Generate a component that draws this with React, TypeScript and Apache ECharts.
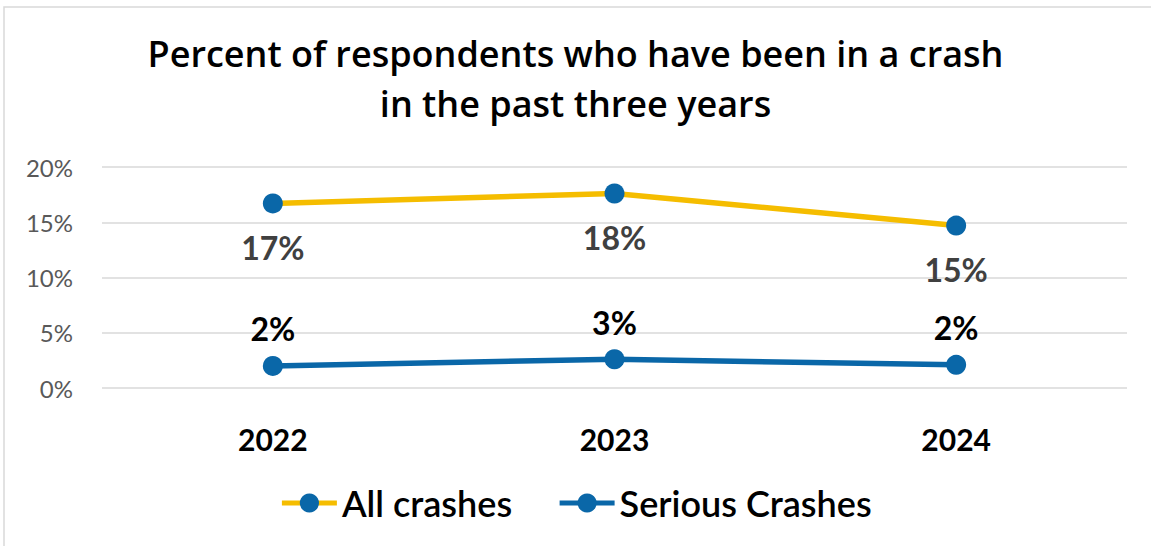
import React, { useEffect, useRef } from "react";
import * as echarts from "echarts";

const years = ["2022", "2023", "2024"];
const allCrashes = [16.7, 17.6, 14.7];
const seriousCrashes = [2.0, 2.6, 2.1];
const titleLines = ["Percent of respondents who have been in a crash", "in the past three years"];
const seriesNames = ["All crashes", "Serious Crashes"];

const FONT = "Lato, 'Open Sans', sans-serif";
const TITLE_FONT = "'Open Sans', Lato, sans-serif";
const YELLOW = "#F5BD00";
const BLUE = "#0A67A8";

export default function App() {
  const ref = useRef<HTMLDivElement>(null);
  useEffect(() => {
    document.body.style.margin = "0";
    const chart = echarts.init(ref.current!, null, { renderer: "svg" });
    chart.setOption({
      animation: false,
      backgroundColor: "#ffffff",
      textStyle: { fontFamily: FONT },
      graphic: [
        {
          type: "rect",
          shape: { x: 4, y: 7, width: 1200, height: 600 },
          style: { fill: "none", stroke: "#D9D9D9", lineWidth: 1.5 },
          silent: true,
        },
      ],
      title: {
        text: titleLines.join("\n"),
        left: "center",
        top: 23,
        textStyle: {
          fontFamily: TITLE_FONT,
          fontSize: 36,
          fontWeight: 600,
          color: "#000000",
          lineHeight: 50,
        },
      },
      legend: {
        bottom: 20,
        left: "center",
        itemWidth: 55,
        itemHeight: 24,
        itemGap: 45,
        lineStyle: { width: 5 },
        textStyle: { fontFamily: FONT, fontSize: 36, fontWeight: 600, color: "#000000" },
        data: seriesNames,
      },
      grid: { left: 102, right: 24, top: 167, bottom: 158 },
      xAxis: {
        type: "category",
        data: years,
        axisLine: { show: false },
        axisTick: { show: false },
        axisLabel: {
          margin: 36,
          fontFamily: FONT,
          fontSize: 30,
          fontWeight: "bold",
          color: "#000000",
        },
      },
      yAxis: {
        type: "value",
        min: 0,
        max: 20,
        interval: 5,
        axisLabel: {
          formatter: "{value}%",
          margin: 29,
          fontFamily: FONT,
          fontSize: 24,
          color: "#595959",
        },
        splitLine: { lineStyle: { color: "#D9D9D9", width: 1.5 } },
        axisLine: { show: false },
        axisTick: { show: false },
      },
      series: [
        {
          name: seriesNames[0],
          type: "line",
          data: allCrashes,
          symbol: "circle",
          symbolSize: 20,
          lineStyle: { color: YELLOW, width: 5.5 },
          itemStyle: { color: BLUE },
          label: {
            show: true,
            position: "bottom",
            distance: 18,
            formatter: (p: any) => Math.round(p.value) + "%",
            fontFamily: FONT,
            fontSize: 32,
            fontWeight: "bold",
            color: "#404040",
          },
        },
        {
          name: seriesNames[1],
          type: "line",
          data: seriousCrashes,
          symbol: "circle",
          symbolSize: 20,
          lineStyle: { color: BLUE, width: 5.5 },
          itemStyle: { color: BLUE },
          label: {
            show: true,
            position: "top",
            distance: 11,
            formatter: (p: any) => Math.round(p.value) + "%",
            fontFamily: FONT,
            fontSize: 32,
            fontWeight: "bold",
            color: "#000000",
          },
        },
      ],
    });
    return () => chart.dispose();
  }, []);
  return <div ref={ref} style={{ width: 1151, height: 546 }} />;
}
